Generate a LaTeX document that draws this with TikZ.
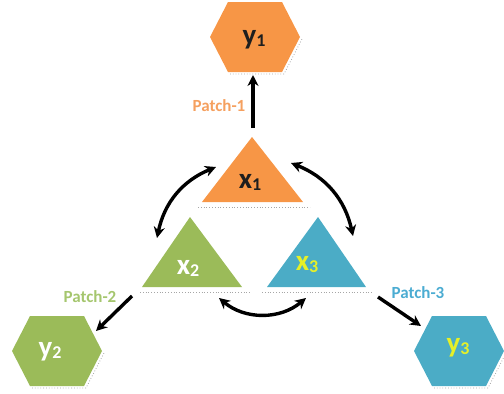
\documentclass[tikz,border=0pt]{standalone}
\usepackage{fontspec}
\setmainfont{Carlito}
\usetikzlibrary{arrows.meta}

\definecolor{hexorange}{RGB}{247,150,70}
\definecolor{hexgreen}{RGB}{155,187,89}
\definecolor{hexblue}{RGB}{75,172,198}
\definecolor{lblorange}{RGB}{245,160,95}
\definecolor{lblgreen}{RGB}{165,198,110}
\definecolor{lblblue}{RGB}{75,172,210}
\definecolor{txtyellow}{RGB}{230,240,40}
\definecolor{txtdark}{RGB}{30,30,30}

\newcommand\varlabel[2]{\fontsize{29}{29}\selectfont\bfseries #1\raisebox{-2pt}{\fontsize{18}{18}\selectfont #2}}

\tikzset{
  hexa/.pic={
    \path[pic actions] (-45,0)--(-27,-35)--(27,-35)--(45,0)--(27,35)--(-27,35)--cycle;
    \draw[shadowline] (-25,37)--(29,37)--(47,2);
  },
  shadowline/.style={gray!70, dotted, line width=0.8pt},
  varnode/.style={inner sep=0pt, font=\bfseries},
  patchlabel/.style={inner sep=0pt, font=\fontsize{17}{17}\selectfont\bfseries},
  flow/.style={line width=3.4pt, -{Stealth[length=11pt,width=11pt]}},
  swap/.style={line width=3.4pt, {Stealth[length=11pt,width=11pt]}-{Stealth[length=11pt,width=11pt]}},
}

\begin{document}
\begin{tikzpicture}[x=1pt,y=-1pt]
  \useasboundingbox (0,0) rectangle (504,394);

  % output hexagons
  \pic[fill=hexorange] at (255,37) {hexa};
  \pic[fill=hexgreen]  at (57,351) {hexa};
  \pic[fill=hexblue]   at (459,351) {hexa};

  % input triangles with their dotted base shadows
  \fill[hexorange] (252,137)--(303,202)--(202,202)--cycle;
  \draw[shadowline] (198,207)--(310,207);
  \fill[hexgreen] (190,217)--(242,287)--(142,287)--cycle;
  \draw[shadowline] (140,292)--(250,292);
  \fill[hexblue] (318,217)--(366,287)--(267,287)--cycle;
  \draw[shadowline] (262,292)--(373,292);

  % labels
  \node[varnode, text=txtdark] (y1) at (254,40) {\varlabel{y}{1}};
  \node[varnode, text=white]   (y2) at (50,352) {\varlabel{y}{2}};
  \node[varnode, text=txtyellow] (y3) at (458,348) {\varlabel{y}{3}};
  \node[varnode, text=txtdark] (x1) at (250,182) {\varlabel{x}{1}};
  \node[varnode, text=white]   (x2) at (188,268) {\varlabel{x}{2}};
  \node[varnode, text=txtyellow] (x3) at (307,265) {\varlabel{x}{3}};

  \node[patchlabel, text=lblorange] (p1) at (219,106) {Patch-1};
  \node[patchlabel, text=lblgreen]  (p2) at (90,297) {Patch-2};
  \node[patchlabel, text=lblblue]   (p3) at (418,293) {Patch-3};

  % connector end points on the shape borders
  \coordinate (x1top) at (253,128);
  \coordinate (y1bot) at (253,75);
  \coordinate (x2out) at (132,296);
  \coordinate (y2in)  at (96,331);
  \coordinate (x3out) at (378,297);
  \coordinate (y3in)  at (421,326);
  \coordinate (x1l) at (216,167);
  \coordinate (x2t) at (157,238);
  \coordinate (x1r) at (291,163);
  \coordinate (x3t) at (353,236);
  \coordinate (x2b) at (219,298);
  \coordinate (x3b) at (306,298);

  % patch outputs
  \draw[flow] (x1top) -- (y1bot);
  \draw[flow] (x2out) -- (y2in);
  \draw[flow] (x3out) -- (y3in);

  % exchanges between inputs
  \draw[swap] (x1l) to[bend right=28] (x2t);
  \draw[swap] (x1r) to[bend left=28] (x3t);
  \draw[swap] (x2b) to[bend right=40] (x3b);
\end{tikzpicture}
\end{document}
